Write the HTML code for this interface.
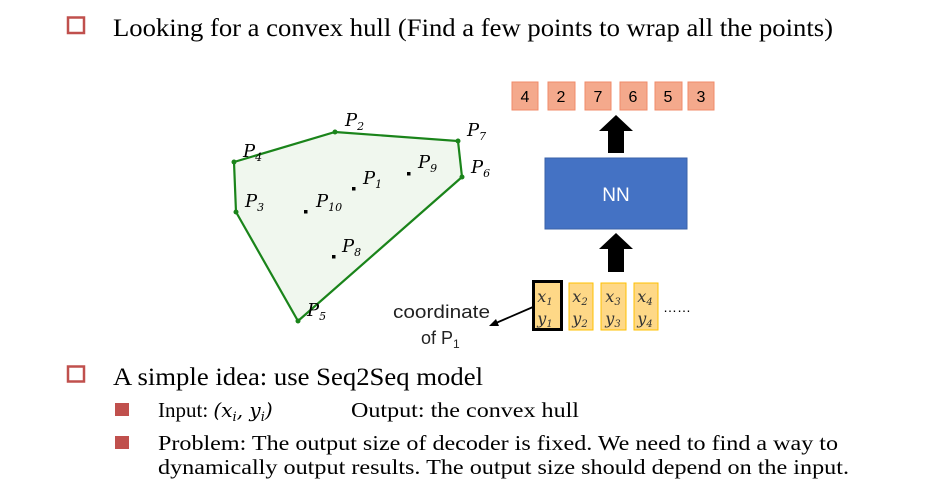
<!DOCTYPE html>
<html><head><meta charset="utf-8"><style>
html,body{margin:0;padding:0;background:#fff;}
svg{display:block;}
.serif{font-family:"Liberation Serif",serif;}
.it{font-family:"DejaVu Serif","Liberation Serif",serif;font-style:italic;}
.sans{font-family:"Liberation Sans",sans-serif;}
</style></head><body>
<svg width="939" height="492" viewBox="0 0 939 492">
<rect x="68" y="17.5" width="16" height="15.5" fill="none" stroke="#c0504d" stroke-width="2.5"/>
<text class="serif" x="113" y="36" font-size="25" textLength="720" lengthAdjust="spacingAndGlyphs">Looking for a convex hull (Find a few points to wrap all the points)</text>

<g>
<polygon points="335,132 458,141 462,177 298,321 236,212 234,162" fill="#f0f7ee" stroke="#1a841a" stroke-width="2.2"/>
<g fill="#1a841a">
<circle cx="335" cy="132" r="2.5"/><circle cx="458" cy="141" r="2.5"/><circle cx="462" cy="177" r="2.5"/>
<circle cx="298" cy="321" r="2.5"/><circle cx="236" cy="212" r="2.5"/><circle cx="234" cy="162" r="2.5"/>
</g>
<g fill="#000">
<rect x="352" y="187" width="3.5" height="3.5"/><rect x="407" y="172" width="3.5" height="3.5"/>
<rect x="304" y="210" width="3.5" height="3.5"/><rect x="332" y="255" width="3.5" height="3.5"/>
</g>
<g class="it" font-size="18" fill="#000">
<text x="345" y="126">P<tspan font-size="11" dy="4">2</tspan></text>
<text x="467" y="136">P<tspan font-size="11" dy="4">7</tspan></text>
<text x="471" y="173">P<tspan font-size="11" dy="4">6</tspan></text>
<text x="243" y="157">P<tspan font-size="11" dy="4">4</tspan></text>
<text x="245" y="207">P<tspan font-size="11" dy="4">3</tspan></text>
<text x="316" y="207">P<tspan font-size="11" dy="4">10</tspan></text>
<text x="363" y="184">P<tspan font-size="11" dy="4">1</tspan></text>
<text x="418" y="168">P<tspan font-size="11" dy="4">9</tspan></text>
<text x="342" y="252">P<tspan font-size="11" dy="4">8</tspan></text>
<text x="307" y="316">P<tspan font-size="11" dy="4">5</tspan></text>
</g>
</g>

<g class="sans" font-size="16" text-anchor="middle">
<rect x="512" y="82" width="26" height="28" fill="#f4a98c" stroke="#f08b6a"/><text x="525" y="102">4</text>
<rect x="548" y="82" width="27" height="28" fill="#f4a98c" stroke="#f08b6a"/><text x="561" y="102">2</text>
<rect x="585" y="82" width="26" height="28" fill="#f4a98c" stroke="#f08b6a"/><text x="598" y="102">7</text>
<rect x="620" y="82" width="27" height="28" fill="#f4a98c" stroke="#f08b6a"/><text x="633" y="102">6</text>
<rect x="655" y="82" width="27" height="28" fill="#f4a98c" stroke="#f08b6a"/><text x="668" y="102">5</text>
<rect x="688" y="82" width="26" height="28" fill="#f4a98c" stroke="#f08b6a"/><text x="701" y="102">3</text>
</g>
<polygon points="616,115 633,131 624,131 624,153 608,153 608,131 599,131" fill="#000"/>
<rect x="545" y="158" width="142" height="71" fill="#4472c4" stroke="#3a62a8"/>
<text class="sans" x="616" y="201" font-size="19" fill="#fff" text-anchor="middle">NN</text>
<polygon points="616,233 633,249 624,249 624,272 608,272 608,249 599,249" fill="#000"/>

<g>
<rect x="569" y="283" width="24" height="47" fill="#fed887" stroke="#ffc000"/>
<rect x="601" y="283" width="25" height="47" fill="#fed887" stroke="#ffc000"/>
<rect x="634" y="283" width="24" height="47" fill="#fed887" stroke="#ffc000"/>
<rect x="533.5" y="281.5" width="28" height="48" fill="#fed887" stroke="#000" stroke-width="3"/>
<g class="it" font-size="16" fill="#333" text-anchor="middle">
<text x="545" y="302">x<tspan font-size="10" dy="3">1</tspan></text><text x="545" y="324">y<tspan font-size="10" dy="3">1</tspan></text>
<text x="580" y="302">x<tspan font-size="10" dy="3">2</tspan></text><text x="580" y="324">y<tspan font-size="10" dy="3">2</tspan></text>
<text x="613" y="302">x<tspan font-size="10" dy="3">3</tspan></text><text x="613" y="324">y<tspan font-size="10" dy="3">3</tspan></text>
<text x="645" y="302">x<tspan font-size="10" dy="3">4</tspan></text><text x="645" y="324">y<tspan font-size="10" dy="3">4</tspan></text>
</g>
<text class="sans" x="663" y="312" font-size="14" fill="#000">……</text>
</g>
<line x1="533" y1="307" x2="496" y2="323" stroke="#000" stroke-width="1.8"/>
<polygon points="489,326 496,319 499,326" fill="#000"/>
<text class="sans" x="393" y="318" font-size="18" fill="#222" textLength="97" lengthAdjust="spacingAndGlyphs">coordinate</text>
<text class="sans" x="421" y="344" font-size="18" fill="#222">of P<tspan font-size="12" dy="4">1</tspan></text>

<rect x="68" y="366.5" width="16" height="15" fill="none" stroke="#c0504d" stroke-width="2.5"/>
<text class="serif" x="113" y="385" font-size="25" textLength="370" lengthAdjust="spacingAndGlyphs">A simple idea: use Seq2Seq model</text>
<rect x="115" y="403" width="14" height="13" fill="#c0504d"/>
<text class="serif" x="158" y="417" font-size="21">Input: <tspan class="it" font-size="20">(x<tspan font-size="13" dy="4">i</tspan><tspan dy="-4">, y</tspan><tspan font-size="13" dy="4">i</tspan><tspan dy="-4">)</tspan></tspan></text>
<text class="serif" x="351" y="417" font-size="21" textLength="228" lengthAdjust="spacingAndGlyphs">Output: the convex hull</text>
<rect x="115" y="436" width="14" height="13" fill="#c0504d"/>
<text class="serif" x="158" y="450" font-size="21" textLength="680" lengthAdjust="spacingAndGlyphs">Problem: The output size of decoder is fixed. We need to find a way to</text>
<text class="serif" x="158" y="474" font-size="21" textLength="691" lengthAdjust="spacingAndGlyphs">dynamically output results. The output size should depend on the input.</text>
</svg>
</body></html>
